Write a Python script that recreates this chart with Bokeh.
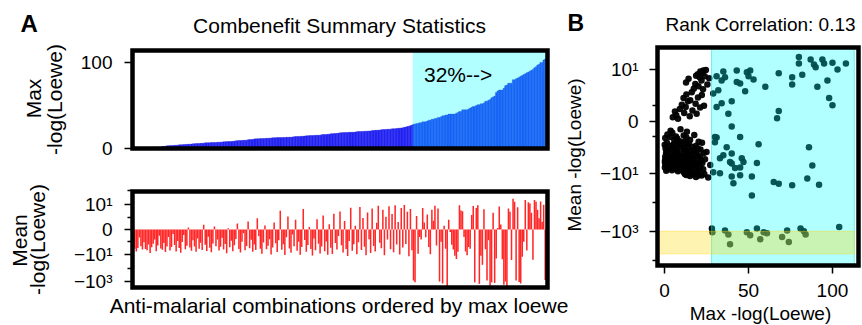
import math
from bokeh.plotting import figure
from bokeh.models import Range1d, FixedTicker, Label, LinearAxis
from bokeh.embed import file_html
from bokeh.resources import INLINE

FONT = "Liberation Sans"

# ---------------- data ----------------
# combinations below the 68th percentile of max -log(Loewe), ordered by max
max_low = [
    0.1, 0.2, 0.2, 0.3, 0.4, 0.4, 0.5, 0.6, 0.7, 0.8, 0.9, 1.0, 1.1,
    1.3, 1.4, 1.5, 1.6, 1.7, 1.8,
    2.2, 2.4, 2.6,
    3.2, 3.3, 3.4, 3.5, 3.6, 3.7, 3.8, 3.9,
    4.3, 4.4, 4.5, 4.6, 4.7, 4.8, 4.9, 5.0, 5.1,
    5.5, 5.6, 5.7, 5.8, 5.9, 6.0, 6.1, 6.2,
    6.6, 6.7, 6.8, 6.8, 6.9, 7.0, 7.0, 7.1, 7.2, 7.3, 7.4, 7.5,
    7.8, 7.9, 8.0, 8.0, 8.1, 8.2, 8.3, 8.4,
    9.0, 9.1, 9.2, 9.3, 9.4, 9.5, 9.6, 9.7,
    10.3, 10.4, 10.5, 10.6,
    11.1, 11.2, 11.3, 11.4, 11.5, 11.5, 11.6, 11.7, 11.8, 11.9, 12.0, 12.1,
    12.5, 12.6, 12.6, 12.7, 12.7, 12.8, 12.8, 12.9, 12.9, 13.0, 13.0, 13.1, 13.2, 13.3,
    13.8, 13.9, 14.0, 14.0, 14.1, 14.2, 14.3, 14.4,
    14.8, 14.9, 15.0, 15.0, 15.1, 15.2, 15.3, 15.3, 15.4, 15.5,
    16.1, 16.2, 16.3, 16.4, 16.5, 16.6,
    17.2, 17.3, 17.4, 17.5, 17.6, 17.7,
    18.3, 18.4, 18.5, 18.5, 18.6, 18.7, 18.8, 18.8, 18.9, 19.0, 19.1,
    19.6, 19.7, 19.8, 19.8, 19.9, 20.0, 20.1, 20.2, 20.3, 20.4,
    20.9, 21.0, 21.1, 21.2, 21.3, 21.4,
    21.9, 22.0, 22.1, 22.2, 22.3, 22.4, 22.5,
    22.9, 23.0, 23.1, 23.3, 23.5, 23.7, 23.9, 24.1,
    24.6, 25.0, 25.5, 26.0, 26.6, 27.2,
]
mean_low = [
    -4.5, -7.8, -8.9, -7.5, -3.2, -6.8, -8.1, -5.2, -7.9, -8.4, -6.1, -9.5, -7.2,
    -5.8, -4.1, -8.8, -6.5, -2.5, -7.7,
    -8.2, -5.5, -9.1,
    -6.9, -3.0, -8.5, -7.1, -1.8, -6.3, -8.9, -4.7,
    -7.5, -9.4, -5.1, -2.2, -8.0, -6.6, 0.8, -7.3, -8.6,
    -4.4, -6.9, -9.0, -3.6, -7.8, -5.4, -8.3, 1.9,
    -6.2, -8.7, -2.9, -7.4, -9.2, -5.7, 1.2, -6.8, -4.0, -8.5, -7.0, -3.3,
    -8.1, -5.9, -9.6, 0.5, -7.2, -4.6, -8.8, -6.4,
    -3.8, 2.4, -7.9, -9.3, -5.0, -1.5, -8.4, -6.7,
    3.2, -7.6, -4.2, -9.0,
    -6.1, -8.3, 4.5, -2.7, -7.8, -9.8, -5.3, 1.6, -8.0, -6.6, -3.9, -10.5,
    -7.3, 2.8, -5.6, -9.1, -4.4, 7.5, -8.2, -6.0, -11.5, -3.1, 5.2, -7.7, -9.4, -2.0,
    -6.8, 3.9, -8.6, -5.0, -10.8, -7.1, 8.2, -4.3,
    -9.0, -6.3, 1.0, -7.9, -12.5, -3.6, -8.4, 4.1, -5.8, -9.7,
    -6.9, 5.6, -8.8, -4.9, -11.0, 2.1,
    -7.4, -9.9, 6.3, -5.5, -8.1, -2.6,
    7.2, -6.4, -9.3, 3.4, -7.9, -13.5, -4.7, 8.8, -8.6, -6.0, 1.5,
    -10.2, -5.2, 9.1, -8.3, 4.6, -7.0, -12.0, 6.8, -3.9, -9.5,
    8.5, -6.7, -8.9, 2.7, 9.6, -5.4,
    -7.6, 7.9, -11.8, 5.1, -4.1, 9.4, -8.0,
    6.2, -9.2, 9.8, -6.1, 3.0, -10.6, 8.7, -7.3,
    9.9, -5.9, 7.1, -14.0, 8.3, -8.4,
]
# top 32 % of combinations, ordered by max
max_high = [
    28.2, 28.5, 29, 29, 30, 30, 31, 31, 31, 32, 33, 33, 34, 34, 35, 35, 36, 36,
    37, 38, 38, 39, 39, 40, 40, 40, 40, 40, 41, 42, 43, 43, 45, 45, 45, 45, 46,
    47, 48, 49, 49, 50, 51, 51, 52, 52, 53, 55, 55, 56, 57, 59, 60, 61, 65, 67,
    68, 68, 68, 70, 73, 74, 76, 76, 76, 80, 80, 81, 82, 83, 84, 85, 86, 87, 88,
    89, 90, 91, 92, 94, 95, 97, 98, 100, 100, 103, 104, 108,
]
mean_high = [
    -794, -1070, 5.4, -9.8, -3.0, -4.0, 8.7, 2.8, -3.1, 6.0, -7.1, -10, 7.9, 3.5,
    9.6, -6.5, 8.5, -940, -5.0, -1290, 1.5, -7.8, -2800, 3.9, -1.0, -6.2, -8.1,
    -12.8, -22, -9.0, 9.8, 7.6, 7.3, -3.0, -8.9, -11.7, -7.1, -7.8, 5.8, 9.5,
    -1070, 8.7, 9.8, -1380, -12.8, -58, 8.1, -8.0, -794, -4.4, -1900, -1070, 6.7,
    -1170, -20, 0.6, 9.3, 2.0, -23, -1580, -940, -2350, 8.5, 7.1, -26, 27, 16,
    -794, 9.0, -990, -1290, -15, -5.0, 22, -8.5, 15, 12, 6.7, -25, 22, 16, 7.9,
    4.5, 17, 3.1, 10, -710, 16,
]
max_loewe = max_low + max_high
mean_loewe = mean_low + mean_high

threshold = 28            # max -log(Loewe) cut-off of the top group
cyan_right = 113
band_top, band_bottom = -1000, -6000
rank_corr = "0.13"

sym_ticks = [10, 0, -10, -1000]
sym_tick_labels = ["10\u00b9", "0", "\u221210\u00b9", "\u221210\u00b3"]
a_minor = [100, 5, -5, -100]
b_minor = [3, -3, -100, -10000]
top_ticks = [0, 100]
b_x_ticks = [0, 50, 100]

# ---------------- helpers ----------------
L = 1.79  # size of the linear part (0..10) of the symlog axis, in decades


def symlog(v):
    a = abs(v)
    s = 1 if v >= 0 else -1
    return s * (a / 10.0 * L if a <= 10 else L + math.log10(a / 10.0))


W, H = 862, 325


def x_rng(lo, hi, px_lo, px_hi):
    s = (px_hi - px_lo) / (hi - lo)
    return Range1d(lo - px_lo / s, hi + (W - px_hi) / s)


def y_rng(lo, hi, py_bottom, py_top):
    # py measured from the top of the page
    s = (py_bottom - py_top) / (hi - lo)
    return Range1d(lo - (H - py_bottom) / s, hi + py_top / s)


def style_axis(ax, standoff):
    ax.major_label_text_font = FONT
    ax.major_label_text_font_size = "19px"
    ax.major_label_text_color = "black"
    ax.axis_line_color = None
    ax.major_tick_line_color = "black"
    ax.major_tick_line_width = 1.5
    ax.major_tick_out = 8
    ax.major_tick_in = 0
    ax.minor_tick_line_color = "black"
    ax.minor_tick_line_width = 1.5
    ax.minor_tick_out = 5
    ax.minor_tick_in = 0
    ax.major_label_standoff = standoff


def add_text(p, x, y_top, text, size, angle=0, align="center", bold=False):
    # x from the left, y_top = wanted baseline from the top of the page
    shift = 0.38 * size  # measured offset of the rendered baseline
    if angle == 90:
        x -= shift
    else:
        y_top -= shift
    p.add_layout(Label(x=x, y=H - y_top, x_units="screen", y_units="screen", text=text,
                       text_font=FONT, text_font_size=f"{size}px", text_align=align,
                       text_baseline="alphabetic", angle=angle, angle_units="deg",
                       text_font_style="bold" if bold else "normal",
                       text_color="black"))


N = len(max_loewe)
N_low = len(max_low)
idx = list(range(N))
sym_mean = [symlog(v) for v in mean_loewe]

# panel boxes (page pixels)
A_L, A_R = 132, 547
A1_T, A1_B = 50, 148
A2_T, A2_B = 191, 287
B_L, B_R, B_T, B_B = 657, 858, 47, 265

# data extents of the boxes
ax_lo, ax_hi = -0.5, N - 0.5
a1_lo, a1_hi = 0, 114
a2_lo, a2_hi = -4.19, 2.74
bx_lo, bx_hi = -4.2, 115.5
by_lo, by_hi = -4.97, 2.55

p = figure(width=W, height=H, x_range=(0, W), y_range=(0, H), x_axis_type=None,
           y_axis_type=None, output_backend="svg", toolbar_location=None,
           min_border_left=0, min_border_right=0, min_border_top=0, min_border_bottom=0)
p.title.text = ""
p.title.visible = False
p.outline_line_color = None
p.background_fill_color = "white"
p.border_fill_color = "white"

p.extra_x_ranges = {"xa": x_rng(ax_lo, ax_hi, A_L, A_R), "xb": x_rng(bx_lo, bx_hi, B_L, B_R)}
p.extra_y_ranges = {"ya1": y_rng(a1_lo, a1_hi, A1_B, A1_T),
                    "ya2": y_rng(a2_lo, a2_hi, A2_B, A2_T),
                    "yb": y_rng(by_lo, by_hi, B_B, B_T)}

BOX = dict(fill_color=None, line_color="black", line_width=4.5, line_join="miter")

# ---------------- panel A, top ----------------
p.vbar(x=idx, top=max_loewe, width=1.0, fill_color="#2b2bff", line_color="#0000d0",
       line_width=0.3, x_range_name="xa", y_range_name="ya1")
p.quad(left=[N_low - 0.5], right=[ax_hi], bottom=[a1_lo], top=[a1_hi], fill_color="#00ffff",
       fill_alpha=0.3, line_color=None, x_range_name="xa", y_range_name="ya1")
p.quad(left=[ax_lo], right=[ax_hi], bottom=[a1_lo], top=[a1_hi], x_range_name="xa",
       y_range_name="ya1", **BOX)
ya1 = LinearAxis(x_range_name="xa", y_range_name="ya1", fixed_location=ax_lo,
                 ticker=FixedTicker(ticks=top_ticks, minor_ticks=[]))
style_axis(ya1, 12)
p.add_layout(ya1, "left")
pct = round(100 * len(max_high) / N)
add_text(p, 423.5, 81.5, f"{pct}%-->", 21, align="left")
add_text(p, 339, 33, "Combenefit Summary Statistics", 21)
add_text(p, 20, 32.5, "A", 24, align="left", bold=True)
add_text(p, 40.5, 98, "Max", 21, angle=90)
add_text(p, 61.5, 99, "-log(Loewe)", 21, angle=90)

# ---------------- panel A, bottom ----------------
p.vbar(x=idx, top=sym_mean, bottom=0, width=1.0, fill_color="#ff2727", line_color=None,
       x_range_name="xa", y_range_name="ya2")
p.quad(left=[ax_lo], right=[ax_hi], bottom=[a2_lo], top=[a2_hi], x_range_name="xa",
       y_range_name="ya2", **BOX)
a_ticks = [symlog(v) for v in sym_ticks]
ya2 = LinearAxis(x_range_name="xa", y_range_name="ya2", fixed_location=ax_lo,
                 ticker=FixedTicker(ticks=a_ticks, minor_ticks=[symlog(v) for v in a_minor]))
ya2.major_label_overrides = dict(zip(a_ticks, sym_tick_labels))
style_axis(ya2, 12)
p.add_layout(ya2, "left")
add_text(p, 338.5, 313, "Anti-malarial combinations ordered by max loewe", 21)
add_text(p, 26.5, 240, "Mean", 21, angle=90)
add_text(p, 45, 239, "-log(Loewe)", 21, angle=90)

# ---------------- panel B ----------------
p.scatter(x=max_loewe, y=sym_mean, size=6.5, marker="circle", fill_color="black",
          fill_alpha=0.95, line_color=None, x_range_name="xb", y_range_name="yb")
p.quad(left=[threshold], right=[cyan_right], bottom=[by_lo], top=[by_hi],
       fill_color="#00ffff", fill_alpha=0.3, line_color="#00e0e0", line_alpha=0.5,
       line_width=1, x_range_name="xb", y_range_name="yb")
p.quad(left=[bx_lo], right=[cyan_right], bottom=[symlog(band_bottom)], top=[symlog(band_top)],
       fill_color="#ffd700", fill_alpha=0.3, line_color="#ffd700", line_alpha=0.4,
       line_width=1, x_range_name="xb", y_range_name="yb")
p.quad(left=[bx_lo], right=[bx_hi], bottom=[by_lo], top=[by_hi], x_range_name="xb",
       y_range_name="yb", **BOX)
xb = LinearAxis(x_range_name="xb", y_range_name="yb", fixed_location=by_lo,
                ticker=FixedTicker(ticks=b_x_ticks, minor_ticks=[]))
style_axis(xb, 10)
p.add_layout(xb, "below")
yb = LinearAxis(x_range_name="xb", y_range_name="yb", fixed_location=bx_lo,
                ticker=FixedTicker(ticks=a_ticks, minor_ticks=[symlog(v) for v in b_minor]))
yb.major_label_overrides = dict(zip(a_ticks, sym_tick_labels))
style_axis(yb, 11)
p.add_layout(yb, "left")
add_text(p, 760, 31.5, "Rank Correlation: " + rank_corr, 19)
add_text(p, 567, 31.5, "B", 23, align="left", bold=True)
add_text(p, 760, 320, "Max -log(Loewe)", 19)
add_text(p, 581, 154.5, "Mean -log(Loewe)", 19, angle=90)

open("out.html", "w").write(file_html(p, INLINE))
